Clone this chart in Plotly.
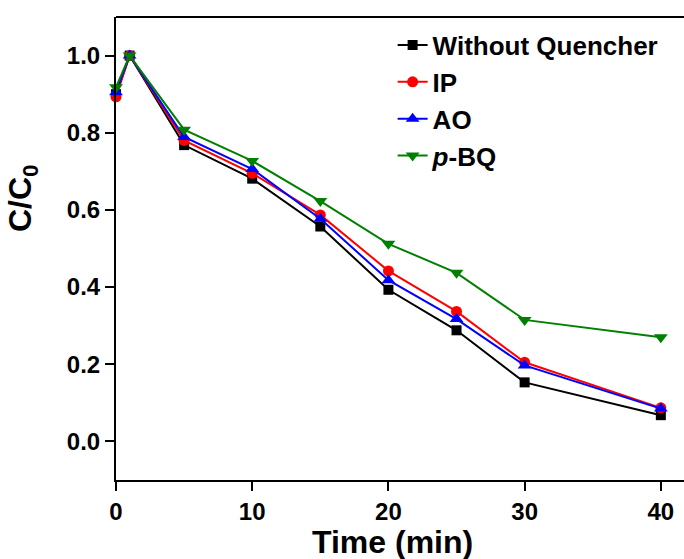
import plotly.graph_objects as go

time_min = [0, 1, 5, 10, 15, 20, 25, 30, 40]
without_quencher = [0.900, 1.0, 0.768, 0.681, 0.557, 0.393, 0.288, 0.153, 0.068]
ip = [0.893, 1.0, 0.780, 0.695, 0.587, 0.442, 0.337, 0.205, 0.087]
ao = [0.905, 1.0, 0.789, 0.706, 0.577, 0.418, 0.317, 0.197, 0.085]
p_bq = [0.918, 1.0, 0.808, 0.727, 0.623, 0.512, 0.437, 0.315, 0.270]

series_names = ["Without Quencher", "IP", "AO", "<i>p</i>-BQ"]
series_values = [without_quencher, ip, ao, p_bq]
series_colors = ["#000000", "#FF0000", "#0000FF", "#008000"]
series_symbols = ["square", "circle", "triangle-up", "triangle-down"]
series_sizes = [10, 11, 12, 12]

x_ticks = [0, 10, 20, 30, 40]
y_ticks = [0.0, 0.2, 0.4, 0.6, 0.8, 1.0]
y_ticklabels = ["0.0", "0.2", "0.4", "0.6", "0.8", "1.0"]

FONT = "Liberation Sans, Arial, sans-serif"

fig = go.Figure()
for name, vals, col, sym, sz in zip(series_names, series_values, series_colors, series_symbols, series_sizes):
    fig.add_trace(go.Scatter(
        x=time_min, y=vals, name=name, mode="lines+markers",
        line=dict(color=col, width=2),
        marker=dict(symbol=sym, size=sz, color=col),
        cliponaxis=False,
    ))

fig.update_layout(
    width=684, height=559,
    margin=dict(l=116, r=0, t=17, b=79, autoexpand=False),
    paper_bgcolor="white", plot_bgcolor="white",
    font=dict(family=FONT, color="black"),
    showlegend=True,
    legend=dict(
        x=0.487, y=0.99, xanchor="left", yanchor="top",
        font=dict(family=FONT, size=26, color="black", weight="bold"),
        bgcolor="rgba(0,0,0,0)", tracegroupgap=0, itemwidth=30,
    ),
    xaxis=dict(
        range=[0, 41.7], tickvals=x_ticks, ticks="outside", ticklen=9, tickwidth=2,
        tickcolor="black", showline=True, linecolor="black", linewidth=2,
        showgrid=False, zeroline=False, automargin=False,
        tickfont=dict(family=FONT, size=24, color="black", weight="bold"),
    ),
    yaxis=dict(
        range=[-0.1, 1.1], tickvals=y_ticks, ticktext=y_ticklabels, ticks="outside",
        ticklen=9, tickwidth=2, tickcolor="black", showline=True, linecolor="black",
        linewidth=2, showgrid=False, zeroline=False, automargin=False,
        tickfont=dict(family=FONT, size=24, color="black", weight="bold"),
    ),
    shapes=[dict(type="line", xref="paper", yref="paper", x0=0, x1=1, y0=1, y1=1,
                 line=dict(color="black", width=2), layer="above")],
    annotations=[
        dict(text="Time (min)", xref="paper", yref="paper", x=(392 - 116) / 568,
             y=(480 - 542) / 463, xanchor="center", yanchor="middle", showarrow=False,
             font=dict(family=FONT, size=32, color="black", weight="bold")),
        dict(text="C/C<sub>0</sub>", xref="paper", yref="paper", x=(23 - 116) / 568,
             y=(480 - 198) / 463, xanchor="center", yanchor="middle", showarrow=False,
             textangle=-90,
             font=dict(family=FONT, size=32, color="black", weight="bold")),
    ],
)

fig.write_html(
    "out.html",
    config={"displayModeBar": False},
    post_script="document.body.style.margin='0';document.body.style.overflow='hidden';",
)
